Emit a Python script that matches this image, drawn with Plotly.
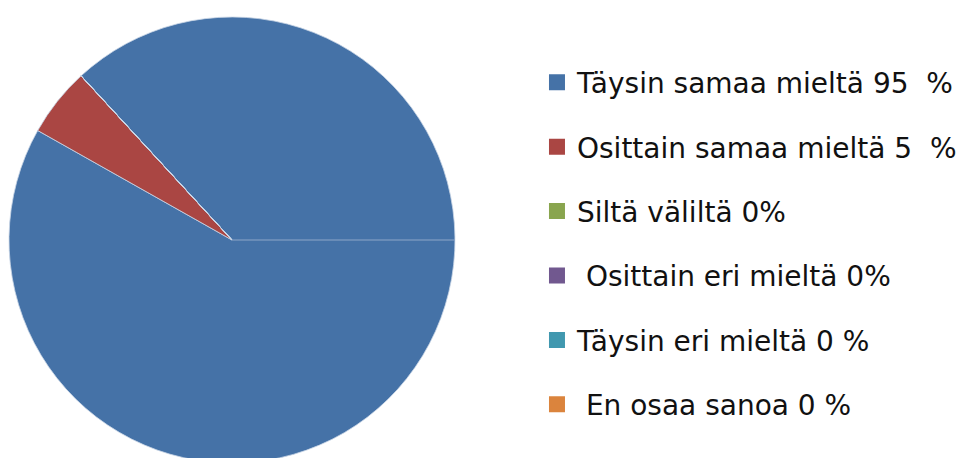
import plotly.graph_objects as go

# legend labels and shares (%)
labels = [
    "Täysin samaa mieltä 95  %",
    "Osittain samaa mieltä 5  %",
    "Siltä väliltä 0%",
    " Osittain eri mieltä 0%",
    "Täysin eri mieltä 0 %",
    " En osaa sanoa 0 %",
]
values = [95, 5, 0, 0, 0, 0]
colors = ["#4572A7", "#AA4643", "#89A54E", "#71588F", "#4198AF", "#DB843D"]

W, H = 966, 458
top, bottom = 9, 3
dom_x = [1 / W, 447 / W]

fig = go.Figure()
fig.add_trace(go.Pie(
    labels=labels, values=values, sort=False, direction="clockwise",
    rotation=-42.6, textinfo="none", hoverinfo="label+percent",
    marker=dict(colors=colors, line=dict(color="#c9d5e6", width=0.8)),
    domain=dict(x=dom_x, y=[0, 1]), showlegend=False,
))

# legend entries drawn as dummy square markers so the row gap can be set
for i, (lab, col) in enumerate(zip(labels, colors)):
    fig.add_trace(go.Scatter(
        x=[None], y=[None], mode="markers", name=lab.replace(" ", "\u00a0"),
        marker=dict(symbol="square", size=17, color=col),
        legendgroup=f"g{i}", showlegend=True,
    ))

# thin line from the centre to 3 o'clock, as in the source image
cx = (dom_x[0] + dom_x[1]) / 2
fig.add_shape(type="line", xref="paper", yref="paper",
              x0=cx, x1=dom_x[1], y0=0.5, y1=0.5,
              line=dict(color="#8ea6c8", width=1))

fig.update_layout(
    width=W, height=H,
    margin=dict(l=0, r=0, t=top, b=bottom),
    paper_bgcolor="white", plot_bgcolor="white",
    font=dict(family="DejaVu Sans", size=28, color="#111111"),
    xaxis=dict(visible=False), yaxis=dict(visible=False),
    legend=dict(x=0.5476, y=0.909, xanchor="left", yanchor="top",
                tracegroupgap=25, itemsizing="trace",
                font=dict(size=28)),
)

fig.write_html("out.html")
